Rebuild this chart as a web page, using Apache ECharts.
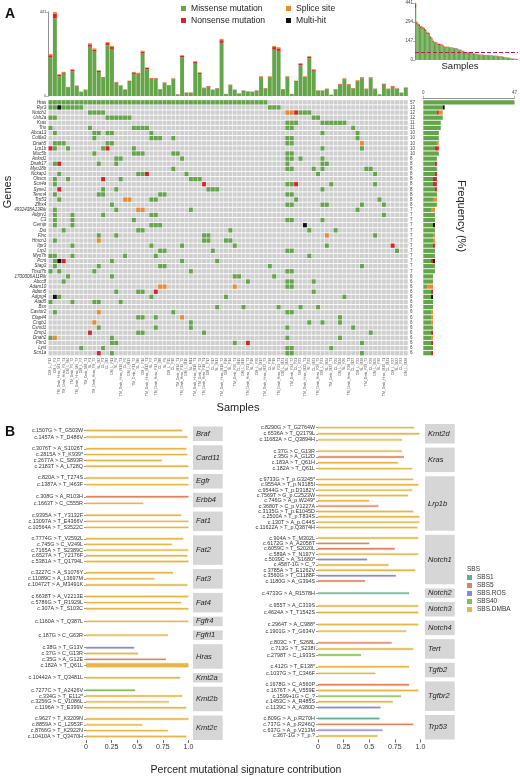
<!DOCTYPE html>
<html>
<head>
<meta charset="utf-8">
<script src="https://cdn.jsdelivr.net/npm/echarts@6/dist/echarts.min.js"></script>
<style>
  html, body { margin: 0; padding: 0; background: #fff; }
  #chart { width: 520px; height: 776px; }
</style>
</head>
<body>
<div id="chart"></div>
<script>
// ---------- panel A : samples and mutation counts ----------
const samples = [
  'DM_L_F12', 'DM_L_F3', 'TM_Dmb_Hras_M1_T1', 'TM_Dmb_Hras_F2_T1', 'DM_L_M4', 'TM_Dmb_F5_T2', 'TM_Dmb_Hras_M6_T3', 'DM_L_F7', 'TM_Dmb_M8_T1', 'SL_F1',
  'TM_Dmb_Hras_F9_T2', 'SL_M2', 'CL_F1', 'CL_M3', 'DM_L_F11', 'SL_F4', 'TM_Dmb_Hras_M10_T1', 'CL_F5', 'DM_L_M13', 'TM_Dmb_F11_T2',
  'SL_M6', 'DM_L_F14', 'TM_Dmb_Hras_M12_T1', 'SL_F7', 'TM_Dmb_Hras_F13_T3', 'CL_M8', 'SL_F9', 'DM_L_F15', 'CL_F10', 'TM_Dmb_M14_T1',
  'TM_Dmb_Hras_F15_T2', 'DM_L_M16', 'SL_M11', 'TM_Dmb_Hras_M16_T1', 'TM_Dmb_F17_T4', 'TM_Dmb_Hras_F18_T1', 'DM_L_F17', 'CL_F12', 'SL_M13', 'TM_Dmb_Hras_M19_T2',
  'DM_L_F18', 'SL_F14', 'TM_Dmb_F20_T1', 'CL_M15', 'DM_L_M19', 'TM_Dmb_Hras_F21_T1', 'SL_F16', 'DM_L_F20', 'SL_M17', 'TM_Dmb_Hras_M22_T3',
  'CL_F18', 'SL_F19', 'TM_Dmb_Hras_F23_T1', 'DM_L_M21', 'SL_M20', 'TM_Dmb_F24_T2', 'CL_F21', 'DM_L_F22', 'TM_Dmb_Hras_M25_T1', 'SL_F22',
  'CL_M23', 'TM_Dmb_Hras_F26_T2', 'DM_L_F23', 'SL_M24', 'TM_Dmb_M27_T1', 'CL_F25', 'DM_L_M24', 'SL_F26', 'TM_Dmb_Hras_F28_T1', 'CL_M27',
  'DM_L_F25', 'SL_M28', 'TM_Dmb_F29_T3', 'CL_F29', 'DM_L_M26', 'SL_F30', 'TM_Dmb_Hras_M30_T1', 'CL_M31', 'DM_L_F27', 'SL_M32',
  'CL_F33', 'DM_L_M28'
];

const missense = [
  202, 407, 103, 117, 45, 130, 51, 21, 31, 259,
  233, 126, 94, 266, 247, 69, 52, 32, 75, 116,
  112, 223, 140, 90, 90, 34, 67, 55, 87, 8,
  202, 17, 17, 170, 116, 41, 49, 32, 39, 279,
  10, 56, 31, 13, 28, 23, 22, 28, 97, 39,
  97, 243, 237, 34, 97, 10, 75, 161, 97, 198,
  132, 28, 28, 36, 7, 34, 59, 87, 58, 39,
  77, 93, 36, 93, 36, 9, 60, 36, 48, 37,
  17, 42
];
const nonsense = [
  12, 26, 9, 7, 2, 7, 3, 1, 2, 12,
  11, 7, 4, 12, 10, 3, 3, 2, 4, 8,
  7, 10, 7, 3, 3, 2, 3, 2, 4, 1,
  9, 1, 1, 9, 6, 2, 3, 1, 2, 14,
  1, 3, 2, 1, 1, 1, 1, 1, 4, 2,
  4, 14, 13, 2, 4, 1, 4, 8, 4, 8,
  6, 1, 1, 2, 0, 2, 3, 4, 3, 2,
  4, 4, 2, 4, 2, 0, 3, 2, 3, 2,
  1, 2
];
const splice = [
  6, 8, 3, 3, 1, 4, 1, 1, 1, 6,
  6, 3, 2, 6, 6, 2, 1, 1, 2, 3,
  3, 5, 3, 2, 2, 1, 2, 1, 2, 0,
  4, 1, 1, 4, 3, 1, 1, 1, 1, 7,
  0, 1, 1, 0, 1, 1, 0, 1, 3, 1,
  3, 6, 6, 1, 3, 0, 2, 4, 3, 4,
  3, 1, 1, 1, 0, 1, 2, 2, 1, 1,
  2, 3, 1, 2, 1, 0, 2, 1, 2, 1,
  0, 1
];

const genes = [
  'Hras', 'Ryr3', 'Notch1', 'Ush2a', 'Kras', 'Trio', 'Abca13', 'Col6a3', 'Dnah5', 'Lrp1b',
  'Muc5b', 'Ankrd1', 'Dnah17', 'Myo18b', 'Nckap1', 'Obscn', 'Scn4a', 'Syne1', 'Tenm4', 'Trp53',
  'Zfhx4', '4932438A13Rik', 'Adgrv1', 'C3', 'Cemip', 'Dst', 'Flnc', 'Hmcn1', 'Itpr3', 'Lrp1',
  'Myo7b', 'Pcnt', 'Stag3', 'Thsd7b', '1700006A11Rik', 'Abcc8', 'Adam10', 'Adam5', 'Adgrg4', 'Atad5',
  'Bsn', 'Castor2', 'Cfap44', 'Cngb1', 'Csmd1', 'Dmp1', 'Dnah2', 'Fbn1', 'Lyst', 'Scn1a'
];
const genePct = [
  '57', '13', '12', '12', '11', '11', '10', '10', '10', '10',
  '10', '8', '8', '8', '8', '8', '8', '8', '8', '8',
  '8', '7', '7', '7', '7', '7', '7', '7', '7', '7',
  '7', '7', '7', '7', '6', '6', '6', '6', '6', '6',
  '6', '6', '6', '6', '6', '6', '6', '6', '6', '6'
];
const freqMissense = [47, 10, 7, 10, 9, 9, 8, 8, 7, 6, 8, 7, 6, 7, 6, 5, 5, 6, 7, 5, 7, 4, 6, 6, 5, 6, 5, 5, 5, 6, 6, 4, 6, 6, 5, 5, 2, 4, 4, 5, 5, 4, 4, 4, 5, 4, 4, 4, 5, 4];
const freqNonsense = [0, 0, 1, 0, 0, 0, 0, 0, 0, 2, 0, 0, 1, 0, 1, 2, 2, 1, 0, 0, 0, 0, 0, 0, 0, 0, 0, 0, 1, 0, 0, 1, 0, 0, 0, 0, 0, 1, 0, 0, 0, 0, 0, 0, 0, 1, 0, 1, 0, 1];
const freqSplice = [0, 0, 2, 0, 0, 0, 0, 0, 1, 0, 0, 0, 0, 0, 0, 0, 0, 0, 0, 2, 0, 2, 0, 0, 0, 0, 1, 1, 0, 0, 0, 0, 0, 0, 0, 0, 3, 0, 0, 0, 0, 1, 1, 1, 0, 0, 1, 0, 0, 0];
const freqMultiHit = [0, 1, 0, 0, 0, 0, 0, 0, 0, 0, 0, 0, 0, 0, 0, 0, 0, 0, 0, 0, 0, 0, 0, 0, 1, 0, 0, 0, 0, 0, 0, 1, 0, 0, 0, 0, 0, 0, 1, 0, 0, 0, 0, 0, 0, 0, 0, 0, 0, 0];

// per gene: [first sample, last sample, type]; type 1 missense, 2 nonsense, 3 splice site, 4 multi-hit
const geneMutations = [
  [[0, 49, 1]],
  [[0, 1, 1], [2, 2, 4], [3, 7, 1], [50, 52, 1]],
  [[9, 12, 1], [54, 55, 3], [56, 56, 2], [57, 59, 1]],
  [[0, 1, 1], [13, 18, 1], [60, 61, 1]],
  [[54, 56, 1], [62, 67, 1]],
  [[0, 0, 1], [9, 9, 1], [19, 22, 1], [54, 55, 1], [69, 69, 1]],
  [[1, 1, 1], [10, 11, 1], [13, 14, 1], [23, 23, 1], [62, 62, 1], [70, 70, 1]],
  [[10, 10, 1], [23, 25, 1], [28, 28, 1], [54, 55, 1], [70, 70, 1]],
  [[1, 3, 1], [13, 14, 1], [54, 55, 1], [71, 71, 3]],
  [[0, 0, 2], [1, 1, 1], [4, 4, 1], [12, 12, 1], [13, 13, 2], [19, 19, 1], [62, 62, 1], [71, 71, 1]],
  [[10, 10, 1], [19, 21, 1], [28, 29, 1], [54, 55, 1]],
  [[15, 16, 1], [30, 30, 1], [54, 55, 1], [57, 57, 1], [62, 62, 1]],
  [[1, 1, 1], [2, 2, 2], [11, 11, 1], [15, 15, 1], [54, 54, 1], [62, 63, 1]],
  [[28, 28, 1], [54, 55, 1], [60, 60, 1], [62, 62, 1], [72, 73, 1]],
  [[2, 2, 1], [20, 21, 1], [22, 22, 2], [31, 31, 1], [61, 61, 1], [74, 74, 1]],
  [[1, 1, 1], [4, 4, 1], [12, 12, 2], [16, 16, 1], [32, 34, 1]],
  [[1, 1, 1], [35, 35, 2], [54, 55, 1], [56, 56, 2], [64, 64, 1], [74, 74, 1]],
  [[2, 2, 2], [12, 12, 1], [15, 15, 1], [36, 38, 1], [62, 62, 1]],
  [[1, 1, 1], [11, 12, 1], [25, 26, 1], [54, 55, 1]],
  [[2, 2, 1], [17, 18, 3], [23, 24, 1], [56, 56, 1], [75, 75, 1]],
  [[14, 14, 1], [54, 55, 1], [62, 63, 1], [71, 71, 1], [76, 76, 1]],
  [[1, 1, 1], [15, 15, 1], [20, 21, 3], [32, 32, 1], [70, 70, 1]],
  [[1, 1, 1], [5, 5, 1], [12, 12, 1], [23, 24, 1], [76, 76, 1]],
  [[1, 1, 1], [5, 5, 1], [19, 19, 1], [54, 55, 1], [62, 62, 1]],
  [[1, 1, 1], [5, 5, 1], [23, 25, 1], [58, 58, 4]],
  [[3, 3, 1], [20, 21, 1], [41, 41, 1], [59, 59, 1], [65, 65, 1]],
  [[11, 11, 1], [15, 15, 1], [35, 36, 1], [63, 63, 3], [74, 74, 1]],
  [[1, 1, 1], [11, 11, 3], [35, 36, 1], [40, 41, 1]],
  [[5, 5, 1], [23, 23, 1], [30, 30, 1], [42, 42, 1], [63, 63, 1], [78, 78, 2]],
  [[25, 26, 1], [37, 37, 1], [54, 55, 1], [79, 79, 1]],
  [[0, 1, 1], [5, 5, 1], [17, 17, 1], [24, 24, 1], [59, 59, 1]],
  [[1, 1, 1], [2, 2, 4], [3, 3, 2], [14, 14, 1], [30, 30, 1], [38, 38, 1]],
  [[1, 1, 1], [11, 11, 1], [25, 26, 1], [50, 50, 1], [71, 71, 1]],
  [[0, 0, 1], [2, 2, 1], [10, 10, 1], [32, 32, 1], [54, 55, 1]],
  [[4, 4, 1], [14, 14, 1], [42, 43, 1], [51, 51, 1]],
  [[3, 3, 1], [45, 45, 1], [54, 55, 1], [60, 60, 1]],
  [[25, 26, 3], [42, 42, 3], [54, 55, 1]],
  [[15, 15, 1], [20, 21, 1], [24, 24, 2], [60, 60, 1]],
  [[1, 1, 4], [2, 2, 1], [23, 23, 1], [40, 40, 1], [67, 67, 1]],
  [[0, 0, 1], [5, 5, 1], [10, 11, 1], [16, 16, 1]],
  [[38, 38, 1], [44, 44, 1], [52, 52, 1], [57, 57, 1], [61, 61, 1]],
  [[1, 1, 1], [11, 11, 3], [28, 28, 1], [54, 55, 1]],
  [[20, 21, 1], [24, 24, 1], [30, 30, 3], [66, 66, 1]],
  [[10, 10, 3], [32, 32, 1], [59, 59, 1], [62, 62, 1], [66, 66, 1]],
  [[11, 11, 1], [24, 24, 1], [32, 32, 1], [54, 54, 1], [69, 69, 1]],
  [[9, 9, 2], [20, 21, 1], [35, 35, 1], [73, 73, 1]],
  [[0, 0, 1], [1, 1, 3], [14, 14, 1], [54, 54, 1], [66, 66, 1]],
  [[14, 15, 1], [42, 42, 1], [45, 45, 2], [71, 71, 1]],
  [[7, 7, 1], [12, 12, 1], [54, 55, 1], [64, 64, 1]],
  [[11, 11, 2], [14, 14, 1], [54, 55, 1], [71, 71, 1]]
];

// ---------- panel B : signature contribution per mutation ----------
const S1 = 'SBS1', S5 = 'SBS5', ROS = 'SBS.ROS', S40 = 'SBS40', DMBA = 'SBS.DMBA';
const sigNames = [S1, S5, ROS, S40, DMBA];

const leftGenes = ['Braf', 'Card11', 'Egfr', 'Erbb4', 'Fat1', 'Fat2', 'Fat3', 'Fat4', 'Fgfr4', 'Fgfrl1', 'Hras', 'Kmt2a', 'Kmt2b', 'Kmt2c'];
const leftMutations = [
  ['c.1507G > T_G503W', 'c.1457A > T_D486V'],
  ['c.3076T > A_S1026T', 'c.2815A > T_K939*', 'c.2677A > C_S893R', 'c.2183T > A_L728Q'],
  ['c.820A > T_T274S', 'c.1387A > T_I463F'],
  ['c.308G > A_R103H', 'c.1663T > C_C555R'],
  ['c.9395A > T_Y3132F', 'c.13097A > T_E4366V', 'c.10564A > T_S3522C'],
  ['c.7774G > T_V2592L', 'c.745G > C_V249L', 'c.7165A > T_S2389C', 'c.6527A > T_Y2176F', 'c.5381A > T_Q1794L'],
  ['c.3227C > A_S1076Y', 'c.11089C > A_L3697M', 'c.10472T > A_M3491K'],
  ['c.6638T > A_V2213E', 'c.5786G > T_R1929L', 'c.307A > T_S103C'],
  ['c.1160A > T_Q387L'],
  ['c.187G > C_G63R'],
  ['c.38G > T_G13V', 'c.37G > C_G13R', 'c.35G > A_G12E', 'c.182A > T_Q61L'],
  ['c.10442A > T_Q3481L'],
  ['c.7277C > T_A2426V', 'c.334G > T_E112*', 'c.3256G > C_V1086L', 'c.1196A > T_E399V'],
  ['c.9627 > T_K3209N', 'c.8859A > C_L2953F', 'c.8766G > T_K2922N', 'c.10410A > T_Q3470H']
];
const leftContrib = [
  [0.94, 0.99],
  [0.98, 0.99, 0.74, 1.0],
  [1.0, 1.0],
  [1.0, 0.56],
  [0.93, 1.0, 1.0],
  [0.95, 0.84, 1.0, 0.99, 1.0],
  [0.85, 0.67, 0.99],
  [1.0, 0.93, 1.0],
  [1.0],
  [0.80],
  [0.47, 0.51, 0.78, 1.0],
  [0.92],
  [0.48, 0.94, 0.81, 0.98],
  [1.0, 0.55, 0.80, 0.98]
];
const leftSig = [
  [DMBA, DMBA],
  [DMBA, DMBA, DMBA, DMBA],
  [DMBA, DMBA],
  [S5, DMBA],
  [DMBA, DMBA, DMBA],
  [DMBA, DMBA, DMBA, DMBA, DMBA],
  [DMBA, DMBA, DMBA],
  [DMBA, DMBA, DMBA],
  [DMBA],
  [DMBA],
  [ROS, DMBA, S5, DMBA],
  [DMBA],
  [S40, DMBA, DMBA, DMBA],
  [DMBA, DMBA, DMBA, DMBA]
];

const rightGenes = ['Kmt2d', 'Kras', 'Lrp1b', 'Notch1', 'Notch2', 'Notch3', 'Notch4', 'Tert', 'Tgfb2', 'Tgfbr2', 'Trp53'];
const rightMutations = [
  ['c.8290G > T_G2764W', 'c.6536A > T_Q2179L', 'c.11682A > C_Q3894H'],
  ['c.37G > C_G13R', 'c.35G > A_G12D', 'c.183A > T_Q61H', 'c.182A > T_Q61L'],
  ['c.9733G > T_p.G3245*', 'c.9554A > T_p.N3185I', 'c.9544G > T_p.D3182Y', 'c.7569T > G_p.C2523W', 'c.746G > A_p.W249*',
   'c.3680T > C_p.V1227A', 'c.3135G > T_p.E1045D', 'c.2500A > T_p.T834S', 'c.130T > A_p.C44S', 'c.11622A > T_p.Q3874H'],
  ['c.904A > T_M302L', 'c.6172G > A_A2058T', 'c.6059C > T_S2020L', 'c.589A > T_N197Y', 'c.5039C > A_S1680*',
   'c.4587-1G > C_?', 'c.3785A > T_E1262V', 'c.3560G > T_C1188F', 'c.1180G > A_G394S'],
  ['c.4733G > A_R1578H'],
  ['c.955T > A_C319S', 'c.4624A > T_T1542S'],
  ['c.2964T > A_C988*', 'c.1901G > T_G634V'],
  ['c.803C > T_S268L', 'c.713G > T_S238I', 'c.2798T > C_L933S'],
  ['c.412G > T_E138*', 'c.1037G > T_C346F'],
  ['c.1678G > C_A560P', 'c.1676T > A_V559E', 'c.1599+1G > C_?', 'c.1453C > A_R485S', 'c.1139C > A_A380D'],
  ['c.809G > A_p.R270H', 'c.737G > A_p.R246Q', 'c.637G > A_p.V213M', 'c.367-1G > T_p.?']
];
const rightContrib = [
  [0.94, 0.99, 0.82],
  [0.82, 0.84, 0.78, 0.92],
  [0.93, 0.98, 0.92, 0.88, 0.50, 0.59, 0.93, 0.99, 0.99, 0.97],
  [0.98, 0.50, 0.75, 0.98, 0.48, 0.69, 0.95, 0.76, 0.46],
  [0.89],
  [0.98, 0.98],
  [0.98, 0.86],
  [0.72, 0.93, 0.42],
  [0.89, 0.56],
  [0.89, 0.98, 0.81, 0.73, 0.61],
  [0.60, 0.93, 0.63, 0.58]
];
const rightSig = [
  [DMBA, DMBA, DMBA],
  [DMBA, S5, DMBA, DMBA],
  [DMBA, DMBA, DMBA, DMBA, DMBA, S5, DMBA, DMBA, DMBA, DMBA],
  [DMBA, S5, S5, DMBA, ROS, DMBA, DMBA, ROS, S5],
  [S1],
  [DMBA, DMBA],
  [DMBA, DMBA],
  [S5, DMBA, S40],
  [DMBA, DMBA],
  [S5, DMBA, S40, DMBA, ROS],
  [S1, S5, ROS, DMBA]
];

// ---------- styles ----------
const mutColors = ['#cfcfcf', '#63a548', '#d7232a', '#ec8b2c', '#111111'];
const sigColors = { 'SBS1': '#5fb08e', 'SBS5': '#df825c', 'SBS.ROS': '#8b8bcb', 'SBS40': '#85bf55', 'SBS.DMBA': '#e7b646' };
const thickRow = { Hras: 'c.182A > T_Q61L' };
const FONT = 'Liberation Sans, Arial, sans-serif';

const chart = echarts.init(document.getElementById('chart'));

const grid = [], xAxis = [], yAxis = [], series = [], graphic = [];

// top bar chart (g0)
grid.push({ left: 48.3, top: 12, width: 359.7, height: 84 });
xAxis.push({ type: 'category', gridIndex: 0, data: samples, show: false });
yAxis.push({
  type: 'value', gridIndex: 0, min: 0, max: 441, interval: 441,
  splitLine: { show: false },
  axisLine: { show: true, lineStyle: { color: '#777', width: 0.8 } },
  axisTick: { show: true, length: 2, lineStyle: { color: '#777', width: 0.6 } },
  axisLabel: { fontSize: 4, color: '#444', margin: 2 }
});
[['Missense mutation', missense, 1], ['Nonsense mutation', nonsense, 2], ['Splice site', splice, 3]].forEach(([name, data, t]) => {
  series.push({
    type: 'bar', name, xAxisIndex: 0, yAxisIndex: 0, stack: 'top', data,
    barCategoryGap: '10%', itemStyle: { color: mutColors[t] }
  });
});

// oncoprint (g1)
grid.push({ left: 48.3, top: 99.75, width: 359.7, height: 256 });
xAxis.push({
  type: 'category', gridIndex: 1, data: samples,
  axisLine: { show: false }, axisTick: { show: false },
  axisLabel: { rotate: 90, interval: 0, hideOverlap: false, fontSize: 3.5, color: '#555', margin: 2 }
});
yAxis.push({
  type: 'category', gridIndex: 1, data: genes, inverse: true,
  axisLine: { show: false }, axisTick: { show: false },
  axisLabel: { interval: 0, hideOverlap: false, fontSize: 4.5, fontStyle: 'italic', color: '#333', margin: 2 }
});
yAxis.push({
  type: 'category', gridIndex: 1, data: genePct, inverse: true, position: 'right',
  axisLine: { show: false }, axisTick: { show: false },
  axisLabel: { interval: 0, hideOverlap: false, fontSize: 4.5, color: '#444', margin: 2 }
});
const bgCells = [];
genes.forEach((g, gi) => samples.forEach((s, si) => bgCells.push([si, gi])));
const mutCells = [];
geneMutations.forEach((runs, gi) => runs.forEach(([a, b, t]) => {
  for (let s = a; s <= b; s++) mutCells.push([s, gi, t]);
}));
function cellRenderer(params, api) {
  const p = api.coord([api.value(0), api.value(1)]);
  const sz = api.size([1, 1]);
  const t = api.value(2) || 0;
  return {
    type: 'rect',
    shape: { x: p[0] - sz[0] / 2 + 0.25, y: p[1] - sz[1] / 2 + 0.45, width: sz[0] - 0.5, height: sz[1] - 0.9 },
    style: { fill: mutColors[t] }
  };
}
series.push({ type: 'custom', xAxisIndex: 1, yAxisIndex: 1, data: bgCells, encode: { x: 0, y: 1 }, renderItem: cellRenderer, progressive: 0, silent: true });
series.push({ type: 'custom', xAxisIndex: 1, yAxisIndex: 1, data: mutCells, encode: { x: 0, y: 1 }, renderItem: cellRenderer, progressive: 0 });

// gene frequency bars (g2)
grid.push({ left: 423.3, top: 99.75, width: 94, height: 256 });
xAxis.push({
  type: 'value', gridIndex: 2, min: 0, max: 47, interval: 47, position: 'top', offset: 2,
  splitLine: { show: false },
  axisLine: { show: true, lineStyle: { color: '#777', width: 0.8 } },
  axisTick: { show: true, length: 2, lineStyle: { color: '#777', width: 0.6 } },
  axisLabel: { fontSize: 4.5, color: '#444', margin: 2 }
});
yAxis.push({ type: 'category', gridIndex: 2, data: genes, inverse: true, show: false });
[['Missense mutation', freqMissense, 1], ['Nonsense mutation', freqNonsense, 2], ['Splice site', freqSplice, 3], ['Multi-hit', freqMultiHit, 4]].forEach(([name, data, t]) => {
  series.push({
    type: 'bar', name, xAxisIndex: 2, yAxisIndex: 3, stack: 'freq', data,
    barCategoryGap: '18%', itemStyle: { color: mutColors[t] }
  });
});

// inset: samples sorted by burden (g3)
const totals = missense.map((m, i) => m + nonsense[i] + splice[i]);
const order = totals.map((v, i) => i).sort((a, b) => totals[b] - totals[a]);
const sortedTotals = order.map(i => totals[i]).slice().sort((a, b) => a - b);
const medianBurden = (sortedTotals[40] + sortedTotals[41]) / 2;
grid.push({ left: 415, top: 3, width: 103, height: 57 });
xAxis.push({ type: 'category', gridIndex: 3, data: order.map(i => samples[i]), show: false });
yAxis.push({
  type: 'value', gridIndex: 3, min: 0, max: 441, interval: 147,
  splitLine: { show: false },
  axisLine: { show: true, lineStyle: { color: '#777', width: 0.8 } },
  axisTick: { show: true, length: 2, lineStyle: { color: '#777', width: 0.6 } },
  axisLabel: { fontSize: 4.5, color: '#444', margin: 2 }
});
[[missense, 1], [nonsense, 2], [splice, 3]].forEach(([arr, t], k) => {
  const s = {
    type: 'bar', xAxisIndex: 3, yAxisIndex: 4, stack: 'inset', data: order.map(i => arr[i]),
    barCategoryGap: '0%', itemStyle: { color: mutColors[t] }, silent: true
  };
  if (k === 0) {
    s.markLine = {
      silent: true, symbol: 'none', label: { show: false },
      lineStyle: { type: 'dashed', color: '#c2185b', width: 1 },
      data: [{ yAxis: medianBurden }]
    };
  }
  series.push(s);
});

// ---------- panel B facets ----------
function segmentRenderer(labels, thickLabel) {
  return function (params, api) {
    const row = api.value(1);
    const a = api.coord([0, row]);
    const b = api.coord([api.value(0), row]);
    const h = labels[row] === thickLabel ? 4 : 1.4;
    const color = api.visual('color');
    return {
      type: 'group',
      children: [
        { type: 'rect', shape: { x: a[0], y: a[1] - h / 2 - 0.8, width: b[0] - a[0], height: h + 1.6 }, style: { fill: color, opacity: 0.22 } },
        { type: 'rect', shape: { x: a[0], y: a[1] - h / 2, width: b[0] - a[0], height: h }, style: { fill: color } }
      ]
    };
  };
}

function addColumn(geneList, mutList, contribList, sigList, left, top, bottom) {
  const heights = mutList.map(m => 5 * m.length + 4.5);
  const gap = (bottom - top - heights.reduce((a, b) => a + b, 0)) / (geneList.length - 1);
  let y = top;
  const width = 106.5;
  geneList.forEach((gene, fi) => {
    const n = mutList[fi].length;
    const labels = mutList[fi];
    const h = heights[fi];
    const gi = grid.length;
    const xi = xAxis.length;
    const yi = yAxis.length;
    const isLast = fi === geneList.length - 1;
    const idx = labels.map((l, i) => i);
    grid.push({ left, top: y, width, height: h });
    xAxis.push({
      type: 'value', gridIndex: gi, min: 0, max: 1.04, show: isLast, position: 'bottom',
      splitLine: { show: false }, axisLine: { show: false, onZero: false },
      axisTick: { show: true, customValues: [0, 0.25, 0.5, 0.75, 1], length: 3, lineStyle: { color: '#444', width: 0.8 } },
      axisLabel: { customValues: [0, 0.25, 0.5, 0.75, 1], hideOverlap: false, formatter: v => (v === 1 ? '1.0' : String(v)), fontSize: 7, color: '#333', margin: 4 }
    });
    yAxis.push({
      type: 'value', gridIndex: gi, inverse: true, min: -0.6, max: n - 0.4,
      splitLine: { show: false }, axisLine: { show: false, onZero: false },
      axisTick: { show: true, customValues: idx, length: 2, lineStyle: { color: '#555', width: 0.6 } },
      axisLabel: { customValues: idx, hideOverlap: false, formatter: v => labels[Math.round(v)], fontSize: 5.4, color: '#333', margin: 3 }
    });
    sigNames.forEach(sig => {
      const rows = [];
      contribList[fi].forEach((v, r) => { if (sigList[fi][r] === sig) rows.push([v, r]); });
      if (!rows.length) return;
      series.push({
        type: 'custom', name: sig, xAxisIndex: xi, yAxisIndex: yi, data: rows,
        encode: { x: 0, y: 1 }, itemStyle: { color: sigColors[sig] },
        renderItem: segmentRenderer(labels, thickRow[gene])
      });
    });
    // facet strip
    graphic.push({ type: 'rect', shape: { x: left + width + 0.5, y: y, width: 29.7, height: h }, style: { fill: '#d6d6d6' }, silent: true });
    graphic.push({
      type: 'text', x: left + width + 3.5, y: y + h / 2, silent: true,
      style: { text: gene, font: 'italic 7.5px ' + FONT, fill: '#222', textVerticalAlign: 'middle' }
    });
    y += h + gap;
  });
}
addColumn(leftGenes, leftMutations, leftContrib, leftSig, 86, 426.5, 740);
addColumn(rightGenes, rightMutations, rightContrib, rightSig, 318, 424, 739.5);

// ---------- titles and axis names ----------
graphic.push(
  { type: 'text', x: 10, y: 14, style: { text: 'A', font: 'bold 14px ' + FONT, fill: '#111', textAlign: 'center', textVerticalAlign: 'middle' } },
  { type: 'text', x: 10, y: 432, style: { text: 'B', font: 'bold 14px ' + FONT, fill: '#111', textAlign: 'center', textVerticalAlign: 'middle' } },
  { type: 'text', x: 8, y: 192, rotation: Math.PI / 2, style: { text: 'Genes', font: '11px ' + FONT, fill: '#222', textAlign: 'center', textVerticalAlign: 'middle' } },
  { type: 'text', x: 238, y: 408, style: { text: 'Samples', font: '11px ' + FONT, fill: '#222', textAlign: 'center', textVerticalAlign: 'middle' } },
  { type: 'text', x: 461, y: 216, rotation: -Math.PI / 2, style: { text: 'Frequency (%)', font: '11px ' + FONT, fill: '#222', textAlign: 'center', textVerticalAlign: 'middle' } },
  { type: 'text', x: 460, y: 66, style: { text: 'Samples', font: '9.5px ' + FONT, fill: '#222', textAlign: 'center', textVerticalAlign: 'middle' } },
  { type: 'text', x: 246, y: 770, style: { text: 'Percent mutational signature contribution', font: '10.5px ' + FONT, fill: '#222', textAlign: 'center', textVerticalAlign: 'middle' } },
  { type: 'text', x: 467, y: 569, style: { text: 'SBS', font: '6.5px ' + FONT, fill: '#333', textVerticalAlign: 'middle' } }
);

chart.setOption({
  animation: false,
  textStyle: { fontFamily: FONT },
  legend: [
    {
      left: 181, top: 4, padding: 0, orient: 'vertical', icon: 'rect', itemWidth: 5, itemHeight: 5, itemGap: 3,
      selectedMode: false, textStyle: { fontSize: 8.6, color: '#222' },
      data: ['Missense mutation', 'Nonsense mutation']
    },
    {
      left: 286, top: 4, padding: 0, orient: 'vertical', icon: 'rect', itemWidth: 5, itemHeight: 5, itemGap: 3,
      selectedMode: false, textStyle: { fontSize: 8.6, color: '#222' },
      data: ['Splice site', 'Multi-hit']
    },
    {
      left: 467, top: 574, padding: 0, orient: 'vertical', icon: 'rect', itemWidth: 5, itemHeight: 5, itemGap: 1,
      textStyle: { fontSize: 6.5, color: '#333' },
      data: sigNames
    }
  ],
  grid,
  xAxis,
  yAxis,
  series,
  graphic
});
</script>
</body>
</html>
